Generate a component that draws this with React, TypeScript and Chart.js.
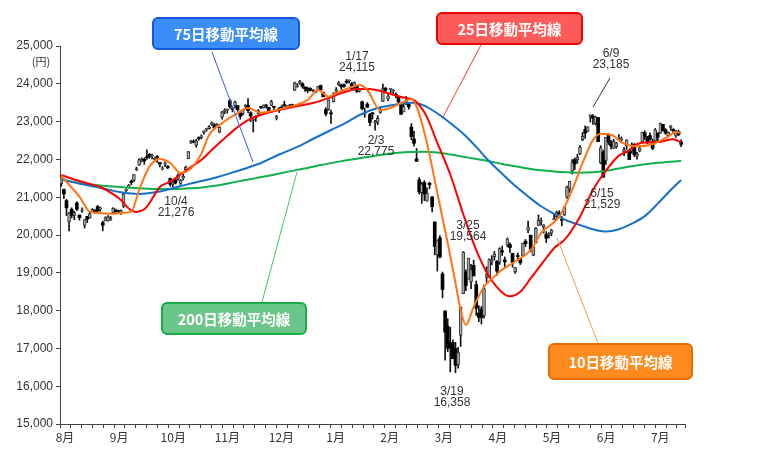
import { useEffect, useRef } from 'react';
import { Chart, registerables } from 'chart.js';
Chart.register(...registerables);

// Trading-day candles, Aug 1 2019 .. Jul 29 2020 (index = trading day)
const monthLabels = ['8月', '9月', '10月', '11月', '12月', '1月', '2月', '3月', '4月', '5月', '6月', '7月'];

const openP = [
  21361,21211,20909,20344,20681,20518,20847,20529,20636,20253,20495,20457,20615,20622,20750,20690,20330,20371,20371,20415,20593,
  20643,20643,20568,20760,21173,21254,21405,21446,21719,21850,21957,22005,22051,22133,22081,21999,22076,21920,21741,
  21875,21822,21494,21348,21456,21482,21366,21501,21729,22019,22452,22478,22375,22556,22584,22711,22795,22816,22923,22913,22876,
  22721,23118,23269,23293,23550,23339,23412,23419,23225,23212,23401,23432,23234,23033,23128,23200,23377,23366,23427,23375,
  23425,23382,23092,23351,23388,23450,23355,23408,23444,23824,23928,24025,24001,23916,23867,23878,23830,23783,23838,23956,23776,
  23319,23320,23217,23530,23813,23969,23963,23973,24058,24073,24002,23923,23938,23813,23524,23193,23462,23185,23230,
  22970,22987,23245,23532,23881,23595,23852,23809,23726,23673,23465,23255,23520,23455,22855,22539,22015,21460,
  21117,21387,20897,21372,21009,20343,19474,19924,18970,17992,17586,17154,17154,16995,16570,17342,18446,19023,18832,18757,19198,
  18686,17934,18053,17857,18878,18876,19290,19429,19306,19280,19581,19342,19731,19752,19512,19023,19446,19383,19452,19836,20119,
  19991,19468,19788,20252,20356,20210,20014,19988,20048,20399,20483,20587,20414,20533,21003,21218,21687,21997,
  21991,22143,22521,22791,22749,23122,23151,22946,23108,21909,22199,21972,22637,22443,22290,22339,22522,22515,22196,22366,22231,22219,
  22399,22085,22219,22471,22704,22600,22631,22473,22487,22698,22699,22927,22783,22623,22846,22796,22618,22733,22463,
];
const highP = [
  21556,21211,20941,20602,20719,20626,20881,20529,20720,20409,20495,20597,20700,20670,20782,20739,20368,20483,20515,20495,20727,
  20683,20660,20668,21105,21221,21336,21459,21601,21797,22019,22041,22040,22255,22156,22140,22054,22105,21923,21811,
  21938,21834,21509,21438,21468,21621,21473,21637,21823,22211,22504,22520,22529,22597,22650,22764,22815,22896,22990,22953,22945,
  22860,23275,23343,23336,23591,23386,23545,23432,23231,23309,23451,23608,23260,23123,23159,23321,23404,23441,23459,23384,
  23564,23402,23164,23379,23427,23543,23425,23455,23462,24046,24009,24091,24029,23919,23911,23898,23853,23801,23932,23967,23782,
  23365,23577,23303,23767,23903,24059,23993,23999,24115,24105,24041,24052,23957,23853,23541,23354,23503,23217,23244,
  23035,23158,23387,23995,23911,23718,23875,23850,23761,23683,23468,23479,23665,23508,22949,22742,22291,21520,
  21395,21439,21245,21399,21009,20347,19867,19985,19019,17992,17785,17557,17229,17160,17029,18100,19564,19079,19389,19224,19336,
  18784,18132,18108,18672,19162,19371,19452,19564,19324,19662,19707,19420,19922,19790,19518,19148,19526,19387,19788,19881,20365,
  20000,19703,20199,20534,20450,20273,20091,20065,20153,20559,20631,20645,20488,20748,21296,21419,21996,22038,
  22137,22374,22714,22885,22864,23178,23185,23141,23109,22364,22246,22582,22687,22502,22532,22452,22656,22596,22321,22522,22245,22438,
  22423,22190,22377,22724,22756,22609,22704,22539,22817,22708,22961,22927,22815,22731,22901,22813,22768,22777,22520,
];
const lowP = [
  21290,20960,20514,20110,20452,20405,20646,20391,20595,20184,20329,20446,20597,20579,20628,20633,20110,20372,20368,20386,20593,
  20601,20580,20547,20726,21135,21241,21330,21414,21701,21843,21933,21868,22000,22026,22013,21934,21919,21798,21720,
  21813,21752,21290,21276,21349,21452,21339,21449,21667,22016,22424,22436,22322,22506,22542,22665,22745,22799,22903,22826,22863,
  22706,23066,23207,23222,23353,23255,23362,23274,23064,23167,23337,23233,22996,22726,23003,23190,23344,23357,23356,23254,
  23422,23300,23044,23243,23332,23402,23355,23381,23363,23824,23907,23982,23884,23799,23762,23809,23801,23762,23835,23826,23656,
  23148,23299,22951,23520,23761,23951,23849,23903,24003,24015,23841,23883,23774,23781,23310,23115,23377,22892,23066,
  22775,22920,23218,23529,23764,23553,23758,23733,23634,23500,23193,23255,23443,23327,22522,22350,21948,21082,
  20834,20910,20897,21221,20613,19474,19046,19391,18339,16690,16914,16378,16726,16358,16480,17048,18446,18524,18832,18578,18917,
  17871,17707,17646,17802,18743,18876,19212,19336,18938,19222,19460,19164,19684,19541,19148,18982,19343,19220,19444,19692,20061,
  19556,19449,19781,20252,20258,20051,19797,19921,19980,20397,20433,20452,20242,20514,20970,21129,21612,21732,
  21900,22128,22494,22552,22730,22986,22926,22908,22472,21885,21529,21864,22392,22277,22290,22296,22504,22486,22097,22264,21995,22165,
  22073,22009,22200,22471,22520,22411,22499,22257,22476,22479,22688,22748,22663,22602,22769,22677,22584,22626,22339,
];
const closeP = [
  21540,21087,20720,20585,20516,20593,20685,20455,20655,20405,20418,20563,20677,20618,20628,20710,20261,20456,20479,20460,20704,
  20620,20625,20649,21085,21199,21318,21392,21597,21759,21988,22001,21960,22044,22079,22098,22020,22048,21878,21756,
  21885,21778,21341,21410,21375,21587,21456,21551,21798,22207,22472,22451,22492,22548,22625,22750,22799,22867,22974,22843,22927,
  22850,23251,23303,23330,23391,23331,23520,23319,23141,23303,23416,23292,23148,23038,23112,23292,23373,23437,23409,23293,
  23529,23379,23135,23300,23354,23430,23410,23391,23424,24023,23952,24066,23934,23864,23816,23821,23830,23782,23924,23837,23656,
  23204,23575,23204,23739,23850,24025,23916,23933,24041,24083,23864,24031,23795,23827,23343,23215,23379,22977,23205,
  22971,23084,23319,23873,23827,23685,23861,23827,23687,23523,23193,23400,23479,23386,22605,22426,21948,21142,
  21344,21082,21100,21329,20749,19698,19867,19416,18559,17431,17002,17011,16726,16552,16887,18092,19546,18664,19389,19084,18917,
  18065,17818,17820,18576,18950,19353,19345,19498,19043,19638,19550,19290,19897,19669,19280,19137,19429,19262,19783,19771,20193,
  19619,19674,20179,20390,20366,20267,19914,20037,20133,20433,20595,20552,20388,20741,21271,21419,21916,21877,
  22062,22325,22613,22695,22863,23178,23091,23124,22472,22305,21530,22582,22455,22355,22478,22437,22549,22534,22259,22512,21995,22288,
  22121,22145,22306,22714,22614,22438,22529,22291,22784,22587,22945,22770,22696,22717,22884,22751,22715,22657,22397,
];

// Moving averages: [trading-day index, value]
const ma10 = [
  [0,21560],[7,21013],[11,20617],[15,20580],[19,20560],[23,20580],[27,20620],[30,21190],[34,21810],[38,22010],[42,21905],
  [46,21640],[50,21760],[54,22150],[57,22645],[62,22960],[68,23225],[72,23360],[77,23235],[83,23307],[88,23395],[95,23570],
  [99,23835],[103,23660],[106,23750],[111,23890],[115,23970],[118,23835],[123,23307],[127,23360],[131,23490],[135,23600],
  [137,23395],[141,22434],[145,21110],[149,19790],[152,18730],[154,18016],[156,17620],[159,18100],[163,18630],[167,18900],
  [169,19030],[175,19300],[181,19600],[185,20050],[192,20485],[197,21190],[201,21905],[205,22510],[208,22680],[213,22620],
  [216,22450],[222,22350],[227,22380],[234,22600],[237,22725],[239,22700],
];
const ma25 = [
  [0,21590],[5,21470],[10,21370],[15,21270],[20,21080],[23,20925],[26,20700],[29,20610],[32,20680],[34,20845],[38,21270],
  [42,21410],[46,21600],[50,21800],[54,21984],[58,22250],[62,22500],[67,22800],[72,23040],[78,23200],[84,23307],[90,23400],
  [97,23490],[103,23620],[108,23757],[115,23862],[119,23860],[123,23810],[127,23730],[131,23650],[136,23570],[139,23350],
  [141,23120],[145,22434],[150,21600],[155,20550],[160,19600],[165,18900],[170,18480],[173,18380],[177,18500],[181,18850],
  [186,19300],[190,19650],[194,19870],[200,20485],[205,21190],[210,21700],[215,22100],[218,22200],[223,22430],[230,22460],
  [236,22530],[239,22450],
];
const ma75 = [
  [0,21480],[8,21340],[15,21250],[23,21130],[30,21085],[38,21150],[46,21296],[50,21360],[55,21440],[60,21530],[65,21630],
  [70,21740],[77,21905],[84,22130],[91,22330],[97,22540],[104,22778],[110,22980],[115,23175],[122,23360],[128,23440],
  [133,23490],[136,23500],[140,23420],[143,23307],[147,23120],[150,22960],[155,22680],[160,22330],[165,21950],[170,21620],
  [175,21300],[180,21020],[185,20760],[190,20560],[195,20380],[200,20265],[205,20150],[210,20090],[215,20150],[220,20300],
  [225,20500],[230,20830],[235,21190],[239,21455],
];
const ma200 = [
  [0,21460],[5,21400],[10,21350],[15,21310],[20,21280],[25,21255],[30,21235],[35,21220],[40,21215],[45,21220],[50,21235],
  [55,21265],[60,21310],[65,21376],[70,21440],[75,21505],[80,21570],[85,21640],[90,21710],[95,21775],[100,21850],[105,21915],
  [110,21975],[115,22030],[120,22085],[125,22135],[130,22175],[135,22196],[140,22200],[145,22180],[150,22130],[155,22070],
  [160,22010],[165,21950],[170,21880],[175,21820],[180,21760],[185,21710],[190,21680],[195,21660],[200,21650],[205,21660],
  [210,21700],[215,21760],[220,21820],[225,21870],[230,21910],[235,21940],[239,21960],
];

const calloutTexts = ['75日移動平均線', '25日移動平均線', '200日移動平均線', '10日移動平均線'];
const pointLabels = [
  ['1/17', '24,115'], ['2/3', '22,775'], ['10/4', '21,276'], ['3/25', '19,564'],
  ['3/19', '16,358'], ['6/9', '23,185'], ['6/15', '21,529'],
];

const LABEL_FONT = '"Liberation Sans", Arial, sans-serif';
const CJK_FONT = '"Noto Sans CJK JP", "Noto Sans", sans-serif';

const overlayPlugin = {
  id: 'overlay',
  afterDraw(chart: any) {
    const ctx = chart.ctx as CanvasRenderingContext2D;
    ctx.save();
    // unit label
    ctx.fillStyle = '#333';
    ctx.font = `11px ${CJK_FONT}`;
    ctx.textAlign = 'center';
    ctx.textBaseline = 'middle';
    ctx.fillText('(円)', 41, 62);

    // point labels
    const lp = [[357, 57], [376, 141], [176, 202], [468, 226], [452, 392], [611, 54], [602, 194]];
    ctx.font = `12px ${LABEL_FONT}`;
    ctx.fillStyle = '#333';
    pointLabels.forEach((lines, i) => {
      const [x, y] = lp[i];
      ctx.fillText(lines[0], x, y);
      ctx.fillText(lines[1], x, y + 11);
    });

    // leader lines
    const leaders: [number, number, number, number, string][] = [
      [212, 52, 253, 162, '#3a55e8'],
      [481, 45, 443, 117, '#ff3535'],
      [262, 302, 297, 172, '#3cc96a'],
      [598, 343, 557, 238, '#ff9a40'],
      [610, 78, 593, 107, '#333333'],
    ];
    ctx.lineWidth = 1;
    leaders.forEach(([x1, y1, x2, y2, c]) => {
      ctx.strokeStyle = c;
      ctx.beginPath();
      ctx.moveTo(x1, y1);
      ctx.lineTo(x2, y2);
      ctx.stroke();
    });

    // callout boxes
    const boxes: [number, number, number, number, string, string][] = [
      [153, 18, 146, 31, '#3b8df7', '#1558dc'],
      [437, 13, 145, 31, '#ff5a5a', '#ee0000'],
      [162, 303, 144, 31, '#6ac689', '#17ad48'],
      [549, 344, 143, 35, '#ff8a1e', '#e86a00'],
    ];
    boxes.forEach(([x, y, w, h, fill, stroke], i) => {
      ctx.beginPath();
      (ctx as any).roundRect(x, y, w, h, 5);
      ctx.fillStyle = fill;
      ctx.fill();
      ctx.lineWidth = 2;
      ctx.strokeStyle = stroke;
      ctx.stroke();
      ctx.fillStyle = '#ffffff';
      ctx.font = `bold 14.5px ${CJK_FONT}`;
      ctx.textAlign = 'center';
      ctx.textBaseline = 'middle';
      ctx.fillText(calloutTexts[i], x + w / 2, y + h / 2 + 1);
    });
    ctx.restore();
  },
};

export default function App() {
  const ref = useRef<HTMLCanvasElement>(null);
  useEffect(() => {
    if (!ref.current) return;
    const idx = closeP.map((_, i) => i);
    const up = idx.map((i) => closeP[i] >= openP[i]);
    const wicks = idx.map((i) => ({ x: i, y: [lowP[i], highP[i]] }));
    const bodies = idx.map((i) => ({ x: i, y: [openP[i], closeP[i]] }));
    const toPts = (arr: number[][]) => arr.map(([x, y]) => ({ x, y }));
    const tickVals: number[] = [];
    for (let k = 0; k <= 57; k++) tickVals.push(-0.5 + k * 4.173);
    tickVals.push(240.5);

    const lineDs = (data: number[][], color: string, order: number) => ({
      type: 'line',
      data: toPts(data),
      borderColor: color,
      borderWidth: 2,
      pointRadius: 0,
      cubicInterpolationMode: 'monotone',
      fill: false,
      order,
    });

    const chart = new Chart(ref.current, {
      type: 'bar',
      data: {
        datasets: [
          lineDs(ma10, '#ff7414', 0),
          lineDs(ma25, '#ff0000', 1),
          lineDs(ma75, '#1570c8', 2),
          lineDs(ma200, '#10b04a', 3),
          {
            type: 'bar',
            data: bodies,
            barThickness: 3,
            grouped: false,
            minBarLength: 1,
            backgroundColor: up.map((u) => (u ? '#a8a8a8' : '#000000')),
            borderColor: up.map((u) => (u ? '#333333' : '#000000')),
            borderWidth: up.map((u) => (u ? 1 : 0)),
            borderSkipped: false,
            order: 4,
          },
          {
            type: 'bar',
            data: wicks,
            barThickness: 1,
            grouped: false,
            backgroundColor: '#111111',
            borderWidth: 0,
            order: 5,
          },
        ] as any,
      },
      options: {
        responsive: false,
        animation: false,
        devicePixelRatio: 1,
        layout: { padding: { left: 0, right: 75, top: 46, bottom: 22 } },
        plugins: { legend: { display: false }, tooltip: { enabled: false } },
        events: [],
        scales: {
          x: {
            type: 'linear',
            min: -0.5,
            max: 240.5,
            offset: false,
            grid: { display: true, drawOnChartArea: false, drawTicks: true, tickLength: 4, color: '#404040', offset: false },
            border: { display: true, color: '#404040', width: 1 },
            afterBuildTicks: (axis: any) => {
              axis.ticks = tickVals.map((v) => ({ value: v }));
            },
            afterFit: (axis: any) => {
              axis.height = 30;
            },
            ticks: {
              autoSkip: false,
              maxRotation: 0,
              minRotation: 0,
              labelOffset: 5,
              padding: 2,
              color: '#333',
              font: { family: CJK_FONT, size: 12 },
              callback: (_v: any, i: number) => (i % 5 === 0 && i / 5 < monthLabels.length ? monthLabels[i / 5] : ''),
            },
          },
          y: {
            type: 'linear',
            min: 15000,
            max: 25000,
            grid: { display: true, drawOnChartArea: false, drawTicks: true, tickLength: 4, color: '#404040' },
            border: { display: true, color: '#404040', width: 1 },
            afterFit: (axis: any) => {
              axis.width = 60;
            },
            ticks: {
              stepSize: 1000,
              padding: 3,
              color: '#333',
              font: { family: LABEL_FONT, size: 12 },
              callback: (v: any) => Number(v).toLocaleString('en-US'),
            },
          },
        },
      } as any,
      plugins: [overlayPlugin],
    });
    return () => chart.destroy();
  }, []);

  return (
    <div style={{ position: 'fixed', left: 0, top: 0, width: 760, height: 476, background: '#ffffff' }}>
      <canvas ref={ref} width={760} height={476} />
    </div>
  );
}
